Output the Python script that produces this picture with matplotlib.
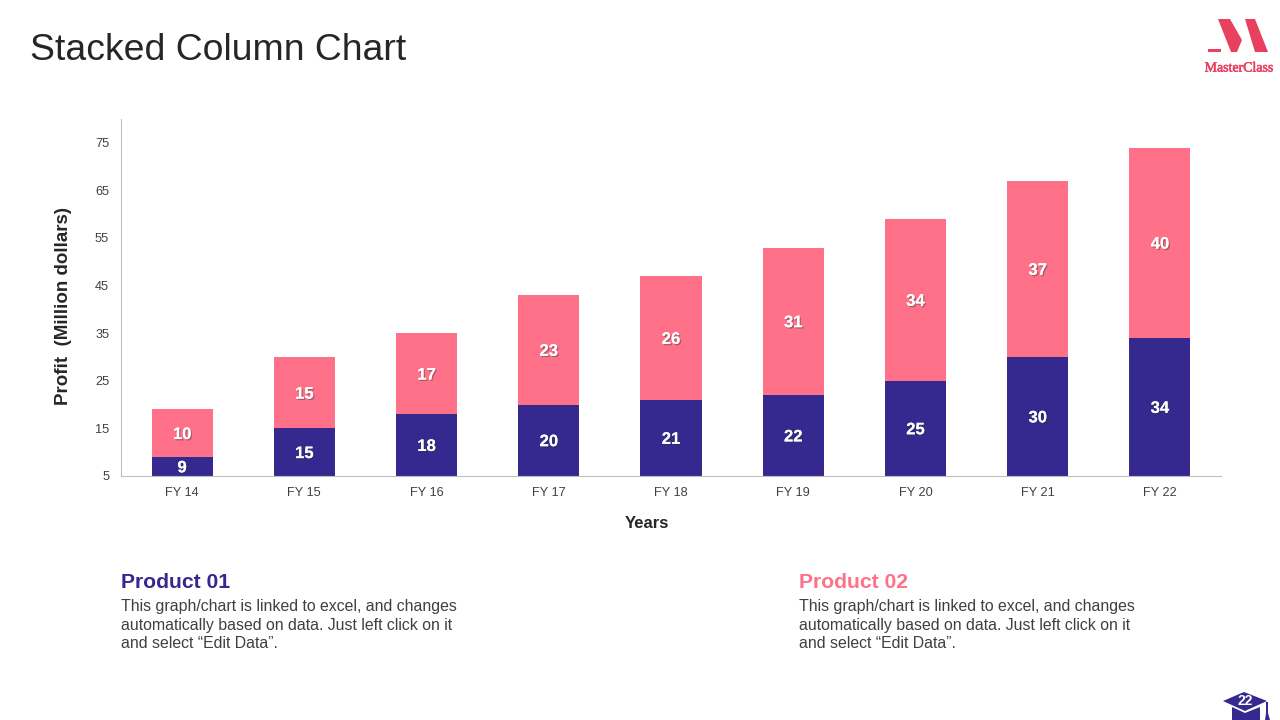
import matplotlib
matplotlib.use("Agg")
import matplotlib.pyplot as plt
import matplotlib.patheffects as pe
from matplotlib.patches import Polygon, Rectangle

plt.rcParams["font.family"] = ["Liberation Sans", "DejaVu Sans"]

# data
years = ["FY 14", "FY 15", "FY 16", "FY 17", "FY 18", "FY 19", "FY 20", "FY 21", "FY 22"]
product_01 = [9, 15, 18, 20, 21, 22, 25, 30, 34]
product_02 = [10, 15, 17, 23, 26, 31, 34, 37, 40]
y_ticks = [5, 15, 25, 35, 45, 55, 65, 75]

NAVY = "#35288F"
PINK = "#FF7189"
LOGO = "#E8405F"
body = ("This graph/chart is linked to excel, and changes\n"
        "automatically based on data. Just left click on it\n"
        "and select \u201cEdit Data\u201d.")

W, H = 1280, 720
fig = plt.figure(figsize=(W / 100, H / 100), dpi=100, facecolor="white")

# chart area, placed in pixels
ax = fig.add_axes([121 / W, 1 - 476 / H, 1100 / W, 357 / H])
x = list(range(len(years)))
ax.bar(x, product_01, width=0.5, color=NAVY)
ax.bar(x, product_02, width=0.5, bottom=product_01, color=PINK)
ax.set_xlim(-0.5, 8.5)
ax.set_ylim(5, 80)
ax.set_xticks(x, years)
ax.set_yticks(y_ticks)
ax.tick_params(length=0, labelsize=9.2, labelcolor="#404040")
ax.tick_params(axis="x", pad=8.2)
ax.tick_params(axis="y", pad=8.5)
for side in ["top", "right"]:
    ax.spines[side].set_visible(False)
for side in ["left", "bottom"]:
    ax.spines[side].set_color("#BFBFBF")
    ax.spines[side].set_linewidth(0.8)

# data labels with a soft shadow
shadow = [pe.withSimplePatchShadow(offset=(1, -1), shadow_rgbFace="#333333", alpha=0.4), pe.Normal()]
for i in x:
    a, b = product_01[i], product_02[i]
    low = (a + 5) / 2  # axis starts at 5 so use the visible part
    for val, ypos in [(a, low), (b, a + b / 2)]:
        ax.annotate(str(val), (i, ypos), xytext=(0, -1), textcoords="offset points",
                    ha="center", va="center", color="white", fontsize=12,
                    fontweight="bold", path_effects=shadow)

# everything else sits on an overlay in pixel coordinates
ov = fig.add_axes([0, 0, 1, 1], facecolor="none")
ov.set_xlim(0, W)
ov.set_ylim(H, 0)
ov.axis("off")

ov.text(30, 50.5, "Stacked Column Chart", fontsize=26.9, color="#262626", va="center", ha="left")
ov.text(63, 306, "Profit  (Million dollars)", fontsize=13.5, fontweight="bold", color="#262626",
        rotation=90, ha="center", va="center")
ov.text(647, 523, "Years", fontsize=12, fontweight="bold", color="#262626", ha="center", va="center")

ov.text(121, 583, "Product 01", fontsize=15.2, fontweight="bold", color=NAVY, va="center")
ov.text(799, 583, "Product 02", fontsize=15.2, fontweight="bold", color=PINK, va="center")
ov.text(121, 599, body, fontsize=11.45, color="#404040", va="top", linespacing=1.31)
ov.text(799, 599, body, fontsize=11.45, color="#404040", va="top", linespacing=1.31)

# logo
ov.add_patch(Rectangle((1208, 49), 13, 3, color=LOGO, lw=0))
ov.add_patch(Polygon([(1218, 19), (1230, 19), (1242, 40), (1237, 52), (1231, 52)], color=LOGO, lw=0))
ov.add_patch(Polygon([(1245, 19), (1255, 19), (1268, 52), (1255, 52)], color=LOGO, lw=0))
ov.text(1239, 68, "MasterClass", fontsize=10, family=["Liberation Serif"], color=LOGO,
        ha="center", va="center", path_effects=[pe.withStroke(linewidth=0.4, foreground=LOGO)])

# page number badge
ov.add_patch(Polygon([(1232, 707), (1245, 713), (1260, 707), (1260, 720), (1232, 720)], color=NAVY, lw=0))
ov.add_patch(Polygon([(1223, 701), (1244, 692), (1267, 701), (1245, 711)], color=NAVY, lw=0))
ov.add_patch(Rectangle((1266, 702), 1.5, 12, color=NAVY, lw=0))
ov.add_patch(Polygon([(1265, 720), (1266, 713), (1268, 713), (1270, 720)], color=NAVY, lw=0))
ov.text(1245, 701, "22", fontsize=10, fontweight="bold", color="white", ha="center", va="center")

fig.savefig("out.png", dpi=100)
